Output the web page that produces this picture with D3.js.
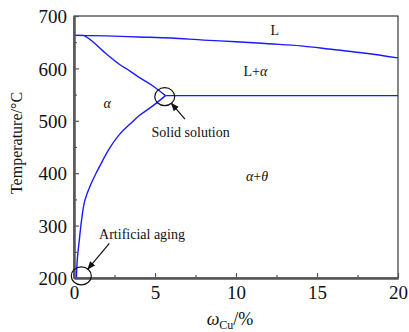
<!DOCTYPE html>
<html><head><meta charset="utf-8">
<script src="https://cdn.jsdelivr.net/npm/d3@7"></script>
<style>body{margin:0;background:#fff}svg{display:block}svg text{font-family:"Liberation Serif","Times New Roman",Times,serif !important;fill:#111}</style>
</head><body>
<svg id="c" width="409" height="332"></svg>
<script>
const xTicks = [0, 5, 10, 15, 20];
const yTicks = [200, 300, 400, 500, 600, 700];
const xMinor = [2.5, 7.5, 12.5, 17.5];
const yMinor = [250, 350, 450, 550, 650];
// liquidus line [wCu, T]
const liquidus = [[0,663],[2,662],[4,660],[6,658],[8,654],[10,651],[12,647],[14,643],[16,636],[18,629],[20,620]];
// solidus line
const solidus = [[0,663],[0.55,663],[1.0,655],[1.8,633],[2.84,607],[3.5,594],[4.07,582],[4.9,566],[5.65,548]];
// eutectic isotherm
const eutectic = [[5.65,548],[20,548]];
// solvus line
const solvus = [[0.15,200],[0.2,234],[0.33,273],[0.47,311],[0.68,349],[1.0,376],[1.3,396],[1.6,414],[2.2,448],[2.84,475],[3.5,495],[4.07,511],[4.8,527],[5.65,548]];
const regionLabels = [{t:"L",x:12.4,y:663},{t:"L+α",x:11.2,y:585},{t:"α",x:2.05,y:525},{t:"α+θ",x:11.3,y:386}];
const notes = [{t:"Solid solution",cx:5.6,cy:546,tx:7.2,ty:470,ax:6.85,ay:503},{t:"Artificial aging",cx:0.45,cy:204,tx:4.2,ty:274,ax:2.18,ay:266}];

const svg = d3.select("#c");
const m = {l:74, r:398, t:16, b:278};
const x = d3.scaleLinear().domain([0,20]).range([m.l, m.r]);
const y = d3.scaleLinear().domain([200,700]).range([m.b, m.t]);

svg.append("rect").attr("x",m.l).attr("y",m.t).attr("width",m.r-m.l).attr("height",m.b-m.t)
  .attr("fill","none").attr("stroke","#111").attr("stroke-width",1);

const line = d3.line().x(d=>x(d[0])).y(d=>y(d[1])).curve(d3.curveMonotoneX);
const lineY = d3.line().x(d=>x(d[0])).y(d=>y(d[1])).curve(d3.curveMonotoneY);
[liquidus, solidus, eutectic].forEach(s=>svg.append("path").attr("d",line(s)).attr("fill","none").attr("stroke","#1a1aff").attr("stroke-width",1.4));
svg.append("path").attr("d",lineY(solvus)).attr("fill","none").attr("stroke","#1a1aff").attr("stroke-width",1.4);

const xa = svg.append("g").attr("transform",`translate(0,${m.b})`)
  .call(d3.axisBottom(x).tickValues(xTicks).tickSizeInner(-5).tickSizeOuter(0).tickPadding(10));
const xm = svg.append("g").attr("transform",`translate(0,${m.b})`)
  .call(d3.axisBottom(x).tickValues(xMinor).tickSizeInner(-3).tickSizeOuter(0).tickFormat(""));
const ya = svg.append("g").attr("transform",`translate(${m.l},0)`)
  .call(d3.axisLeft(y).tickValues(yTicks).tickSizeInner(-5).tickSizeOuter(0).tickPadding(7));
const ym = svg.append("g").attr("transform",`translate(${m.l},0)`)
  .call(d3.axisLeft(y).tickValues(yMinor).tickSizeInner(-3).tickSizeOuter(0).tickFormat(""));
[xa,xm,ya,ym].forEach(g=>{g.attr("font-family",null);g.selectAll("path.domain").attr("stroke","#555").attr("stroke-width",2);g.selectAll("line").attr("stroke","#555").attr("stroke-width",1.2);});
[xa,ya].forEach(g=>g.selectAll("text").style("font-size","19px").attr("fill","#111"));
xa.selectAll("text").attr("dy","0.72em").attr("y",7);
ya.selectAll("text").attr("dy","0.35em");

svg.append("text").attr("transform",`translate(22,${(m.t+m.b)/2-4}) rotate(-90)`).attr("text-anchor","middle")
  .style("font-size","16px").text("Temperature/°C");
const xt = svg.append("text").attr("x",230).attr("y",325).attr("text-anchor","middle").style("font-size","18px");
xt.append("tspan").style("font-style","italic").text("ω");
xt.append("tspan").attr("dy",4).style("font-size","12px").text("Cu");
xt.append("tspan").attr("dy",-4).text("/%");

regionLabels.forEach(d=>{
  const t = svg.append("text").attr("x",x(d.x)).attr("y",y(d.y)).attr("text-anchor","middle").style("font-size","14px");
  if(d.t==="L") t.text("L");
  else if(d.t==="L+α"){t.append("tspan").text("L+");t.append("tspan").style("font-style","italic").text("α");}
  else if(d.t==="α"){t.style("font-style","italic").text("α");}
  else {t.append("tspan").style("font-style","italic").text("α");t.append("tspan").text("+");t.append("tspan").style("font-style","italic").text("θ");}
});

svg.append("defs").append("marker").attr("id","ah").attr("viewBox","0 0 10 10").attr("refX",9).attr("refY",5)
  .attr("markerWidth",7).attr("markerHeight",7).attr("orient","auto")
  .append("path").attr("d","M0,1 L10,5 L0,9 Z").attr("fill","#111");
notes.forEach(d=>{
  svg.append("ellipse").attr("cx",x(d.cx)).attr("cy",y(d.cy)).attr("rx",10).attr("ry",9)
    .attr("fill","none").attr("stroke","#111").attr("stroke-width",1.2);
  const sx = x(d.ax), sy = y(d.ay), ex = x(d.cx), ey = y(d.cy);
  const ang = Math.atan2(ey-sy, ex-sx);
  const tx = ex - 10*Math.cos(ang), ty = ey - 9*Math.sin(ang);
  svg.append("line").attr("x1",sx).attr("y1",sy).attr("x2",tx).attr("y2",ty)
    .attr("stroke","#111").attr("stroke-width",1.2).attr("marker-end","url(#ah)");
  svg.append("text").attr("x",x(d.tx)).attr("y",y(d.ty)).attr("text-anchor","middle").style("font-size","14px").text(d.t);
});
</script>
</body></html>
